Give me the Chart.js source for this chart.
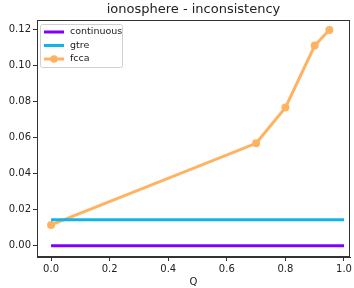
<!DOCTYPE html>
<html>
<head>
<meta charset="utf-8">
<script src="https://cdn.jsdelivr.net/npm/chart.js@4"></script>
<style>
  html, body { margin: 0; padding: 0; background: #fff; }
  #wrap { width: 354px; height: 288px; }
</style>
</head>
<body>
<div id="wrap"><canvas id="chart" width="354" height="288"></canvas></div>
<script>
// data
const qFull = [0.0, 1.0];
const continuousVals = [0.0, 0.0];
const gtreVals = [0.0144, 0.0144];
const fccaQ = [0.0, 0.7, 0.8, 0.9, 0.95];
const fccaVals = [0.0115, 0.0568, 0.0766, 0.111, 0.1197];
const xTicks = [0.0, 0.2, 0.4, 0.6, 0.8, 1.0];
const yTicks = [0.0, 0.02, 0.04, 0.06, 0.08, 0.1, 0.12];

const toPoints = (xs, ys) => xs.map((x, i) => ({ x, y: ys[i] }));
const FONT = "'DejaVu Sans', sans-serif";
const AXIS = "#333";

// matplotlib style frame on all four sides
const framePlugin = {
  id: "frame",
  afterDraw(chart) {
    const { ctx, chartArea: a } = chart;
    ctx.save();
    ctx.strokeStyle = AXIS;
    ctx.lineWidth = 1;
    ctx.strokeRect(a.left + 0.5, a.top + 0.5, a.right - a.left - 1, a.bottom - a.top - 1);
    ctx.restore();
  },
};

// legend drawn inside the plot, upper left
const innerLegend = {
  id: "innerLegend",
  afterDraw(chart) {
    const { ctx, chartArea: a } = chart;
    const x0 = a.left + 3, y0 = a.top + 4, w = 82, h = 43;
    ctx.save();
    ctx.fillStyle = "rgba(255,255,255,0.8)";
    ctx.strokeStyle = "#d0d0d0";
    ctx.lineWidth = 1;
    ctx.beginPath();
    ctx.roundRect(x0 + 0.5, y0 + 0.5, w, h, 2);
    ctx.fill();
    ctx.stroke();
    ctx.font = "9.5px " + FONT;
    ctx.textBaseline = "middle";
    chart.data.datasets.forEach((ds, i) => {
      const cy = y0 + 8 + i * 13.5;
      ctx.strokeStyle = ds.borderColor;
      ctx.lineWidth = 3;
      ctx.beginPath();
      ctx.moveTo(x0 + 4, cy);
      ctx.lineTo(x0 + 24, cy);
      ctx.stroke();
      if (ds.pointRadius > 0) {
        ctx.fillStyle = ds.borderColor;
        ctx.beginPath();
        ctx.arc(x0 + 14, cy, 3.8, 0, Math.PI * 2);
        ctx.fill();
      }
      ctx.fillStyle = "#222";
      ctx.fillText(ds.label, x0 + 30, cy);
    });
    ctx.restore();
  },
};

new Chart(document.getElementById("chart"), {
  type: "line",
  data: {
    datasets: [
      {
        label: "continuous",
        data: toPoints(qFull, continuousVals),
        borderColor: "#8000ff",
        borderWidth: 3,
        pointRadius: 0,
      },
      {
        label: "gtre",
        data: toPoints(qFull, gtreVals),
        borderColor: "#12b4e8",
        borderWidth: 3,
        pointRadius: 0,
      },
      {
        label: "fcca",
        data: toPoints(fccaQ, fccaVals),
        borderColor: "#ffb360",
        backgroundColor: "#ffb360",
        borderWidth: 3,
        pointRadius: 4,
        pointBorderWidth: 0,
      },
    ],
  },
  options: {
    responsive: false,
    animation: false,
    layout: { padding: { top: 0, right: 2, left: 0, bottom: 0 } },
    plugins: {
      legend: { display: false },
      tooltip: { enabled: false },
      title: {
        display: true,
        fullSize: false,
        text: "ionosphere - inconsistency",
        color: "#222",
        font: { family: FONT, size: 13, weight: "normal" },
        padding: { top: 2, bottom: 2.4 },
      },
    },
    scales: {
      x: {
        type: "linear",
        min: -0.048,
        max: 1.0205,
        afterBuildTicks: (s) => { s.ticks = xTicks.map((v) => ({ value: v })); },
        afterFit: (s) => { s.height = 31; s.paddingRight = 0; s.paddingLeft = 0; },
        ticks: {
          color: "#222",
          font: { family: FONT, size: 10 },
          padding: 2,
          maxRotation: 0,
          callback: (v) => v.toFixed(1),
        },
        grid: { drawOnChartArea: false, drawTicks: true, tickLength: 4, color: AXIS },
        border: { display: true, color: AXIS },
        title: {
          display: true,
          text: "Q",
          color: "#222",
          font: { family: FONT, size: 10 },
          padding: { top: 0, bottom: 0 },
        },
      },
      y: {
        type: "linear",
        min: -0.0063,
        max: 0.1252,
        afterBuildTicks: (s) => { s.ticks = yTicks.map((v) => ({ value: v })); },
        afterFit: (s) => { s.width = 37; },
        ticks: {
          color: "#222",
          font: { family: FONT, size: 10 },
          padding: 2,
          callback: (v) => v.toFixed(2),
        },
        grid: { drawOnChartArea: false, drawTicks: true, tickLength: 4, color: AXIS },
        border: { display: true, color: AXIS },
      },
    },
  },
  plugins: [framePlugin, innerLegend],
});
</script>
</body>
</html>
